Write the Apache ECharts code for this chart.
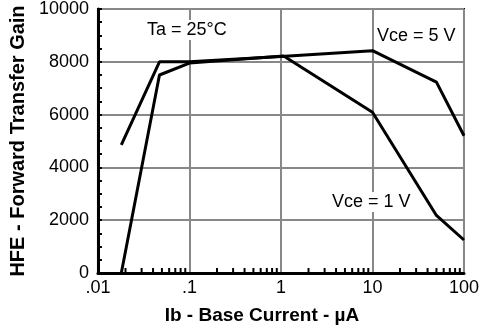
<!DOCTYPE html>
<html>
<head>
<meta charset="utf-8">
<script src="https://cdn.jsdelivr.net/npm/echarts@6/dist/echarts.min.js"></script>
<style>
  html, body { margin: 0; padding: 0; background: #fff; }
  #chart { width: 482px; height: 331px; }
</style>
</head>
<body>
<div id="chart"></div>
<script>
// Ib (uA) vs HFE
const ib5V = [0.018, 0.047, 0.1, 1, 10, 50, 100]
const hfe5V = [4850, 8000, 8000, 8200, 8420, 7230, 5200]

const ib1V = [0.018, 0.047, 0.1, 1.07, 10, 50, 100]
const hfe1V = [0, 7500, 7950, 8220, 6090, 2180, 1250]

const xTickLabels = { 0.01: '.01', 0.1: '.1', 1: '1', 10: '10', 100: '100' }
const decades = [0.01, 0.1, 1, 10]

// minor ticks at 2..9 of each decade
const minorX = []
decades.forEach(d => {
  for (let k = 2; k <= 9; k++) minorX.push([+(d * k).toPrecision(3), 0])
})

const font = '"Liberation Sans", Arial, sans-serif'

const chart = echarts.init(document.getElementById('chart'))

const lineStyle = { color: '#000', width: 3 }
const noteStyle = {
  fontFamily: font, fontSize: 18, fill: '#000',
  backgroundColor: '#fff', padding: [1, 2]
}

chart.setOption({
  animation: false,
  grid: {
    left: 97, right: 16, top: 9, bottom: 58,
    show: true, borderColor: '#000', borderWidth: 2
  },
  xAxis: {
    type: 'log',
    logBase: 10,
    min: 0.01,
    max: 100,
    name: 'Ib - Base Current - µA',
    nameLocation: 'middle',
    nameGap: 33,
    nameTextStyle: {
      fontFamily: font, fontSize: 19, fontWeight: 'bold', color: '#000',
      padding: [0, 38, 0, 0]
    },
    axisLine: { lineStyle: { color: '#000', width: 3 } },
    axisTick: { show: false },
    axisLabel: {
      fontFamily: font, fontSize: 18, color: '#000', margin: 6,
      formatter: v => xTickLabels[+v.toPrecision(3)] || ''
    },
    splitLine: { show: true, lineStyle: { color: '#888', width: 2 } }
  },
  yAxis: {
    type: 'value',
    min: 0,
    max: 10000,
    interval: 2000,
    name: 'HFE - Forward Transfer Gain',
    nameLocation: 'middle',
    nameGap: 57,
    nameTextStyle: { fontFamily: font, fontSize: 20, fontWeight: 'bold', color: '#000' },
    axisLine: { show: true, lineStyle: { color: '#000', width: 3 } },
    axisTick: { show: true, inside: true, length: 4, lineStyle: { color: '#000', width: 2 } },
    minorTick: { show: true, splitNumber: 4, length: 4, lineStyle: { color: '#000', width: 2 } },
    axisLabel: { fontFamily: font, fontSize: 18, color: '#000', margin: 9, formatter: v => String(v) },
    splitLine: { show: true, lineStyle: { color: '#888', width: 2 } }
  },
  graphic: [
    { type: 'text', left: 145, top: 20, z: 10, style: Object.assign({ text: 'Ta = 25°C' }, noteStyle) },
    { type: 'text', left: 375, top: 26, z: 10, style: Object.assign({ text: 'Vce = 5 V' }, noteStyle) },
    { type: 'text', left: 330, top: 192, z: 10, style: Object.assign({ text: 'Vce = 1 V' }, noteStyle) }
  ],
  series: [
    {
      name: 'minor ticks',
      type: 'custom',
      silent: true,
      z: 3,
      data: minorX,
      renderItem: (params, api) => {
        const p = api.coord([api.value(0), 0])
        return {
          type: 'line',
          shape: { x1: p[0], y1: p[1], x2: p[0], y2: p[1] - 5 },
          style: { stroke: '#000', lineWidth: 2 }
        }
      }
    },
    {
      name: 'Vce = 5 V',
      type: 'line',
      data: ib5V.map((x, i) => [x, hfe5V[i]]),
      symbol: 'none',
      lineStyle,
      z: 5
    },
    {
      name: 'Vce = 1 V',
      type: 'line',
      data: ib1V.map((x, i) => [x, hfe1V[i]]),
      symbol: 'none',
      lineStyle,
      z: 5
    }
  ]
})
</script>
</body>
</html>
